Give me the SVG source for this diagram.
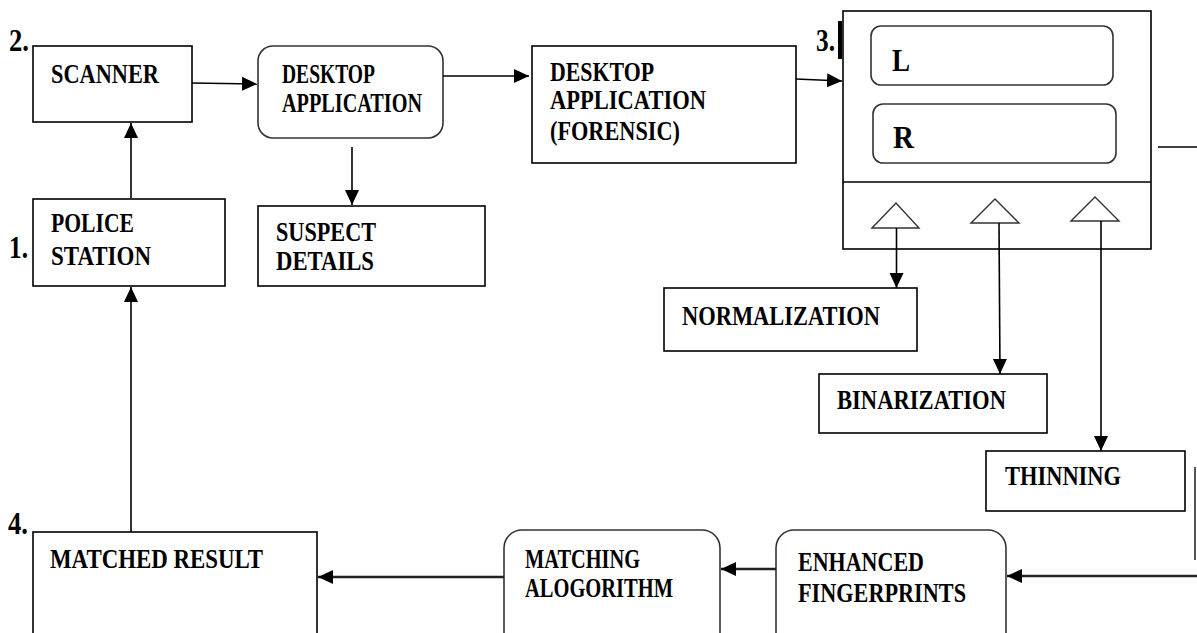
<svg xmlns="http://www.w3.org/2000/svg" width="1197" height="633" viewBox="0 0 1197 633">
<style>
.b{fill:#fff;stroke:#000;stroke-width:1.6}
.r{fill:#fff;stroke:#333;stroke-width:1.6}
.t{font-family:"Liberation Serif","Times New Roman",serif;font-weight:bold;font-size:27px;fill:#000}
.n{font-family:"Liberation Serif","Times New Roman",serif;font-weight:bold;font-size:32px;fill:#000}
.c{stroke:#000;stroke-width:1.6;fill:none}
.g{stroke:#222;stroke-width:2.4;fill:none}
.tri{fill:#fff;stroke:#333;stroke-width:1.4}
</style>
<defs>
<marker id="a" markerUnits="userSpaceOnUse" markerWidth="16" markerHeight="16" viewBox="0 0 16 16" refX="15" refY="8" orient="auto">
<path d="M0,1 L15,8 L0,15 Z" fill="#000"/>
</marker>
</defs>
<rect width="1197" height="633" fill="#fff"/>

<g id="scanner">
<rect class="b" x="33" y="46" width="159" height="76"/>
<text class="t" x="51" y="83" textLength="108" lengthAdjust="spacingAndGlyphs">SCANNER</text>
<text class="n" x="9" y="51" textLength="20" lengthAdjust="spacingAndGlyphs">2.</text>
</g>

<g id="desktop-app">
<rect class="r" x="258" y="46" width="185" height="92" rx="15"/>
<text class="t" x="282" y="83" textLength="93" lengthAdjust="spacingAndGlyphs">DESKTOP</text>
<text class="t" x="282" y="112" textLength="140" lengthAdjust="spacingAndGlyphs">APPLICATION</text>
</g>

<g id="suspect">
<rect class="b" x="258" y="206" width="227" height="80"/>
<text class="t" x="276" y="241" textLength="100" lengthAdjust="spacingAndGlyphs">SUSPECT</text>
<text class="t" x="276" y="270" textLength="98" lengthAdjust="spacingAndGlyphs">DETAILS</text>
</g>

<g id="police">
<rect class="b" x="33" y="199" width="192" height="87"/>
<text class="t" x="51" y="232" textLength="83" lengthAdjust="spacingAndGlyphs">POLICE</text>
<text class="t" x="51" y="265" textLength="100" lengthAdjust="spacingAndGlyphs">STATION</text>
<text class="n" x="9" y="258" textLength="19" lengthAdjust="spacingAndGlyphs">1.</text>
</g>

<g id="forensic">
<rect class="b" x="532" y="46" width="264" height="117"/>
<text class="t" x="550" y="81" textLength="104" lengthAdjust="spacingAndGlyphs">DESKTOP</text>
<text class="t" x="550" y="109" textLength="156" lengthAdjust="spacingAndGlyphs">APPLICATION</text>
<text class="t" x="550" y="140" textLength="130" lengthAdjust="spacingAndGlyphs">(FORENSIC)</text>
</g>

<g id="processing">
<rect class="b" x="843" y="11" width="308" height="238"/>
<line class="c" x1="843" y1="182" x2="1151" y2="182"/>
<rect x="838" y="21" width="4" height="38" fill="#000"/>
<text class="n" x="816" y="51" textLength="19" lengthAdjust="spacingAndGlyphs">3.</text>
<rect class="r" x="871" y="26" width="242" height="59" rx="10"/>
<text class="n" x="892" y="71" textLength="18" lengthAdjust="spacingAndGlyphs">L</text>
<rect class="r" x="873" y="104" width="243" height="59" rx="10"/>
<text class="n" x="893" y="148" textLength="21" lengthAdjust="spacingAndGlyphs">R</text>
<polygon class="tri" points="872,228 896,203 919,228"/>
<polygon class="tri" points="971,223 995,199 1019,223"/>
<polygon class="tri" points="1071,221 1095,197 1119,221"/>
</g>

<g id="normalization">
<rect class="b" x="664" y="288" width="253" height="63"/>
<text class="t" x="682" y="325" textLength="198" lengthAdjust="spacingAndGlyphs">NORMALIZATION</text>
</g>

<g id="binarization">
<rect class="b" x="819" y="374" width="228" height="59"/>
<text class="t" x="837" y="409" textLength="169" lengthAdjust="spacingAndGlyphs">BINARIZATION</text>
</g>

<g id="thinning">
<rect class="b" x="986" y="451" width="199" height="60"/>
<text class="t" x="1005" y="485" textLength="116" lengthAdjust="spacingAndGlyphs">THINNING</text>
</g>

<g id="enhanced">
<rect class="r" x="776" y="530" width="230" height="130" rx="18"/>
<text class="t" x="798" y="571" textLength="126" lengthAdjust="spacingAndGlyphs">ENHANCED</text>
<text class="t" x="798" y="602" textLength="168" lengthAdjust="spacingAndGlyphs">FINGERPRINTS</text>
</g>

<g id="matching">
<rect class="r" x="504" y="530" width="216" height="130" rx="18"/>
<text class="t" x="525" y="568" textLength="115" lengthAdjust="spacingAndGlyphs">MATCHING</text>
<text class="t" x="525" y="597" textLength="148" lengthAdjust="spacingAndGlyphs">ALOGORITHM</text>
</g>

<g id="matched">
<rect class="b" x="33" y="532" width="284" height="130"/>
<text class="t" x="50" y="568" textLength="213" lengthAdjust="spacingAndGlyphs">MATCHED RESULT</text>
<text class="n" x="8" y="534" textLength="20" lengthAdjust="spacingAndGlyphs">4.</text>
</g>

<g id="connectors">
<line class="c" x1="192" y1="83" x2="257" y2="84" marker-end="url(#a)"/>
<line class="c" x1="443" y1="76" x2="529" y2="76" marker-end="url(#a)"/>
<line class="c" x1="352" y1="147" x2="352" y2="205" marker-end="url(#a)"/>
<line class="c" x1="131" y1="198" x2="131" y2="123" marker-end="url(#a)"/>
<line class="c" x1="796" y1="79" x2="842" y2="81" marker-end="url(#a)"/>
<line class="c" x1="1158" y1="147" x2="1197" y2="147"/>
<line class="c" x1="896.5" y1="228" x2="896.5" y2="288" marker-end="url(#a)"/>
<line class="c" x1="999" y1="223" x2="1000" y2="374" marker-end="url(#a)"/>
<line class="c" x1="1101" y1="221" x2="1101" y2="451" marker-end="url(#a)"/>
<line stroke="#555" stroke-width="2" x1="1195" y1="467" x2="1195" y2="560"/>
<line class="g" x1="1197" y1="576" x2="1007" y2="576" marker-end="url(#a)"/>
<line class="g" x1="776" y1="569" x2="721" y2="569" marker-end="url(#a)"/>
<line class="g" x1="504" y1="577" x2="318" y2="577" marker-end="url(#a)"/>
<line class="c" x1="131" y1="532" x2="131" y2="287" marker-end="url(#a)"/>
</g>
</svg>
